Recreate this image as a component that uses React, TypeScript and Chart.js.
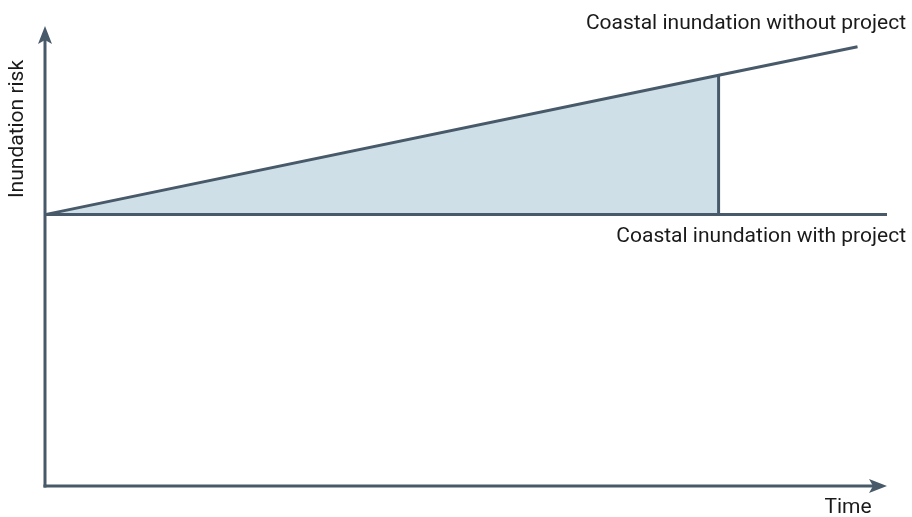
import React, { useEffect, useRef } from "react";
import { Chart, registerables } from "chart.js";

Chart.register(...registerables);

// Data (conceptual units: time 0..100, risk 0..100)
const timeWithout = [0, 80, 96.5];
const riskWithout = [59, 89.3, 95.5];
const timeWith = [0, 100];
const riskWith = [59, 59];
const shadeTime = [0, 80];
const shadeRisk = [59, 89.3];
const projectEndTime = 80;

const labelWithout = "Coastal inundation without project";
const labelWith = "Coastal inundation with project";
const xTitle = "Time";
const yTitle = "Inundation risk";

const LINE = "#485a69";
const FILL = "#cfdfe8";
const TEXT = "#1a1a1a";
const FONT = "21px 'Roboto', 'DejaVu Sans', sans-serif";

const decorPlugin = {
  id: "decor",
  afterDatasetsDraw(chart: any) {
    const { ctx } = chart;
    const xs = chart.scales.x;
    const ys = chart.scales.y;
    const x0 = xs.getPixelForValue(0);
    const y0 = ys.getPixelForValue(0);
    const xEnd = xs.getPixelForValue(100);
    const yTop = ys.getPixelForValue(100);
    ctx.save();
    ctx.strokeStyle = LINE;
    ctx.fillStyle = LINE;
    ctx.lineWidth = 3;
    ctx.lineCap = "butt";
    // y axis
    ctx.beginPath();
    ctx.moveTo(x0, y0 + 1.5);
    ctx.lineTo(x0, yTop + 10);
    ctx.stroke();
    // x axis
    ctx.beginPath();
    ctx.moveTo(x0 - 1.5, y0);
    ctx.lineTo(xEnd - 10, y0);
    ctx.stroke();
    // y arrow head
    ctx.beginPath();
    ctx.moveTo(x0, yTop);
    ctx.lineTo(x0 + 7, yTop + 18);
    ctx.lineTo(x0, yTop + 14);
    ctx.lineTo(x0 - 7, yTop + 18);
    ctx.closePath();
    ctx.fill();
    // x arrow head
    ctx.beginPath();
    ctx.moveTo(xEnd, y0);
    ctx.lineTo(xEnd - 18, y0 - 7);
    ctx.lineTo(xEnd - 14, y0);
    ctx.lineTo(xEnd - 18, y0 + 7);
    ctx.closePath();
    ctx.fill();

    // texts
    ctx.fillStyle = TEXT;
    ctx.font = FONT;
    ctx.textBaseline = "middle";
    ctx.textAlign = "right";
    ctx.fillText(labelWithout, 906, 24);
    ctx.fillText(labelWith, 906, 237);
    ctx.textAlign = "center";
    ctx.fillText(xTitle, 848, 508);
    ctx.translate(18, 129);
    ctx.rotate(-Math.PI / 2);
    ctx.fillText(yTitle, 0, 0);
    ctx.restore();
  },
};

const toXY = (xs: number[], ys: number[]) => xs.map((x, i) => ({ x, y: ys[i] }));

export default function App() {
  const ref = useRef<HTMLCanvasElement>(null);
  useEffect(() => {
    document.body.style.margin = "0";
    const chart = new Chart(ref.current!, {
      type: "line",
      data: {
        datasets: [
          {
            label: "shade",
            data: toXY(shadeTime, shadeRisk),
            borderWidth: 0,
            borderColor: "rgba(0,0,0,0)",
            backgroundColor: FILL,
            fill: { value: riskWith[0] },
            pointRadius: 0,
            clip: false as any,
            order: 3,
          },
          {
            label: labelWith,
            data: toXY(timeWith, riskWith),
            borderColor: LINE,
            borderWidth: 3,
            pointRadius: 0,
            fill: false,
            clip: false as any,
            order: 2,
          },
          {
            label: "project end",
            data: [
              { x: projectEndTime, y: riskWith[0] },
              { x: projectEndTime, y: riskWithout[1] },
            ],
            borderColor: LINE,
            borderWidth: 3,
            pointRadius: 0,
            fill: false,
            clip: false as any,
            order: 2,
          },
          {
            label: labelWithout,
            data: toXY(timeWithout, riskWithout),
            borderColor: LINE,
            borderWidth: 3,
            pointRadius: 0,
            fill: false,
            clip: false as any,
            order: 1,
          },
        ],
      },
      options: {
        animation: false,
        responsive: true,
        maintainAspectRatio: false,
        layout: { padding: { left: 45, right: 25, top: 26, bottom: 31 } },
        plugins: { legend: { display: false }, tooltip: { enabled: false } },
        scales: {
          x: { type: "linear", min: 0, max: 100, display: false },
          y: { type: "linear", min: 0, max: 100, display: false },
        },
      },
      plugins: [decorPlugin],
    });
    return () => chart.destroy();
  }, []);
  return (
    <div style={{ position: "fixed", left: 0, top: 0, width: 912, height: 517 }}>
      <canvas ref={ref} />
    </div>
  );
}
